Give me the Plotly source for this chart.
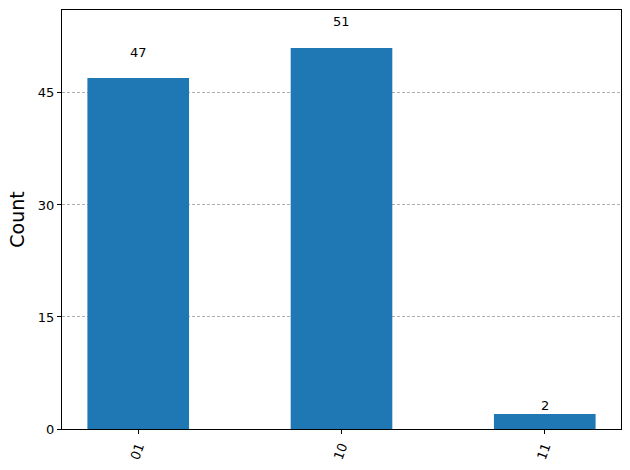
import plotly.graph_objects as go

categories = ["01", "10", "11"]
counts = [47, 51, 2]
y_ticks = [0, 15, 30, 45]

xpos = list(range(len(categories)))
fig = go.Figure()
fig.add_trace(go.Bar(x=xpos, y=counts, width=0.5, marker=dict(color="#1f77b4", line=dict(width=0)), hoverinfo="skip"))

for x, v in zip(xpos, counts):
    fig.add_annotation(x=x, y=v * 1.05, text=str(v), showarrow=False, yanchor="bottom", xanchor="center",
                       yshift=-2, font=dict(size=13, color="black", family="DejaVu Sans"))

fig.update_layout(
    width=630, height=470,
    margin=dict(l=62, r=9, t=10, b=41),
    paper_bgcolor="white", plot_bgcolor="white",
    showlegend=False,
    font=dict(family="DejaVu Sans", size=13, color="black"),
    xaxis=dict(range=[-0.375, 2.375], tickvals=xpos, ticktext=categories, tickangle=-70,
               showline=True, linecolor="black", linewidth=1, mirror=True,
               ticks="outside", ticklen=4, tickcolor="black", showgrid=False, zeroline=False,
               tickfont=dict(size=13, family="DejaVu Sans")),
    yaxis=dict(range=[0, 56.1], tickvals=y_ticks, showline=True, linecolor="black", linewidth=1, mirror=True,
               ticks="outside", ticklen=4, tickcolor="black", showgrid=True, gridcolor="#b0b0b0",
               griddash="3px,2px", gridwidth=0.8, zeroline=False,
               title=dict(text="Count", font=dict(size=19, family="DejaVu Sans"), standoff=8),
               tickfont=dict(size=13, family="DejaVu Sans")),
)

fig.write_html("out.html", config={"displayModeBar": False},
               post_script="document.body.style.margin='0';document.body.style.overflow='hidden';")
